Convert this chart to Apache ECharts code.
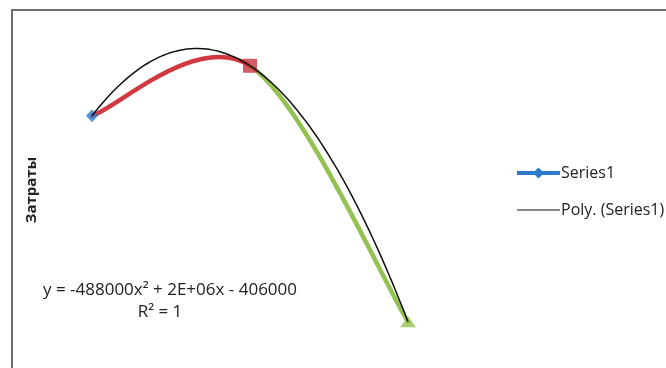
<!DOCTYPE html>
<html><head><meta charset="utf-8">
<script src="https://cdn.jsdelivr.net/npm/echarts@6/dist/echarts.min.js"></script>
<style>html,body{margin:0;padding:0;background:#fff}#c{width:666px;height:368px}</style>
</head><body><div id="c"></div>
<script>
// ---- data ----
const xValues = [1, 2, 3];
const yValues = [729500, 889000, 72500];
const seriesName = 'Series1';
const trendName = 'Poly. (Series1)';
const yAxisTitle = 'Затраты';
const equationText = 'y = -488000x² + 2E+06x - 406000';
const r2Text = 'R² = 1';

// least-squares polynomial (degree 2) trendline fitted to the data
function polyFit2(xs, ys) {
  const S = [0,0,0,0,0], T = [0,0,0];
  xs.forEach((x, i) => {
    for (let k = 0; k < 5; k++) S[k] += Math.pow(x, k);
    for (let k = 0; k < 3; k++) T[k] += ys[i] * Math.pow(x, k);
  });
  const M = [[S[0],S[1],S[2],T[0]],[S[1],S[2],S[3],T[1]],[S[2],S[3],S[4],T[2]]];
  for (let c = 0; c < 3; c++) {
    for (let r = c + 1; r < 3; r++) {
      const f = M[r][c] / M[c][c];
      for (let k = c; k < 4; k++) M[r][k] -= f * M[c][k];
    }
  }
  const b = [0,0,0];
  for (let r = 2; r >= 0; r--) {
    let s = M[r][3];
    for (let k = r + 1; k < 3; k++) s -= M[r][k] * b[k];
    b[r] = s / M[r][r];
  }
  return b; // c0 + c1 x + c2 x^2
}
const coef = polyFit2(xValues, yValues);
const xLo = Math.min(...xValues), xHi = Math.max(...xValues);
const trendData = [];
for (let i = 0; i <= 80; i++) {
  const x = xLo + (xHi - xLo) * i / 80;
  trendData.push([x, coef[0] + coef[1] * x + coef[2] * x * x]);
}
const points = xValues.map((x, i) => [x, yValues[i]]);

const BLUE = '#2a7bcc', RED = '#d2383f', GREEN = '#93c152';
const SEG_COLORS = [RED, GREEN];
const FONT = '"Open Sans", "Noto Sans", sans-serif';

// Excel-style smoothed segment between point i and i+1, positioned through the axes (api.coord)
function renderSegment(params, api) {
  const i = params.dataIndex, n = points.length;
  if (i >= n - 1) return null;
  const P = k => api.coord(points[Math.max(0, Math.min(n - 1, k))]);
  const p0 = P(i), p1 = P(i + 1), pm = P(i - 1), pn = P(i + 2);
  return {
    type: 'bezierCurve',
    shape: {
      x1: p0[0], y1: p0[1], x2: p1[0], y2: p1[1],
      cpx1: p0[0] + (p1[0] - pm[0]) / 6, cpy1: p0[1] + (p1[1] - pm[1]) / 6,
      cpx2: p1[0] - (pn[0] - p0[0]) / 6, cpy2: p1[1] - (pn[1] - p0[1]) / 6
    },
    style: {fill: null, stroke: SEG_COLORS[i % SEG_COLORS.length], lineWidth: 4.5, lineCap: 'round'}
  };
}

const chart = echarts.init(document.getElementById('c'), null, {renderer: 'canvas'});
chart.setOption({
  animation: false,
  backgroundColor: '#fff',
  grid: {left: 13, width: 553, top: 31, height: 313.5},
  xAxis: {type: 'value', min: 0.5, max: 4, show: false},
  yAxis: {type: 'value', min: 0, max: 1000000, show: false},
  legend: {
    orient: 'vertical', left: 515, top: 165, padding: 0,
    itemWidth: 43, itemHeight: 14, itemGap: 21,
    data: [
      {name: seriesName, lineStyle: {width: 4}},
      {name: trendName, icon: 'path://M0,0 L43,0 L43,1 L0,1 Z', itemStyle: {color: '#111'}}
    ],
    textStyle: {fontFamily: FONT, fontSize: 16, color: '#222', padding: [0, 0, 0, -4]}
  },
  series: [
    {
      type: 'custom', name: '_main', data: points, renderItem: renderSegment,
      encode: {x: 0, y: 1}, z: 2, silent: true
    },
    {
      type: 'scatter', name: '_markers', z: 3, silent: true,
      data: [
        {value: points[0], symbol: 'diamond', symbolSize: [12, 13], itemStyle: {color: BLUE}},
        {value: points[1], symbol: 'rect', symbolSize: 14, itemStyle: {color: '#c9343f'}},
        {value: points[2], symbol: 'triangle', symbolSize: [16, 11], itemStyle: {color: GREEN}}
      ]
    },
    {
      type: 'line', name: trendName, data: trendData, showSymbol: false, symbol: 'none',
      color: '#111', lineStyle: {width: 1.5, color: '#111'}, z: 4, silent: true
    },
    {
      type: 'line', name: seriesName, data: [], symbol: 'diamond', symbolSize: 11,
      color: BLUE, itemStyle: {color: BLUE}, lineStyle: {width: 4, color: BLUE}
    }
  ],
  graphic: [
    {type: 'rect', shape: {x: 12, y: 10, width: 720, height: 420}, style: {fill: 'none', stroke: '#6e6e6e', lineWidth: 2}, z: 10},
    {type: 'text', x: 32, y: 190, rotation: Math.PI / 2,
     style: {text: yAxisTitle, font: 'bold 15px ' + FONT, fill: '#222', align: 'center', verticalAlign: 'middle'}},
    {type: 'text', x: 170, y: 290,
     style: {text: equationText, font: '17px ' + FONT, fill: '#222', align: 'center', verticalAlign: 'middle'}},
    {type: 'text', x: 160, y: 312,
     style: {text: r2Text, font: '17px ' + FONT, fill: '#222', align: 'center', verticalAlign: 'middle'}}
  ]
});
</script>
</body></html>
